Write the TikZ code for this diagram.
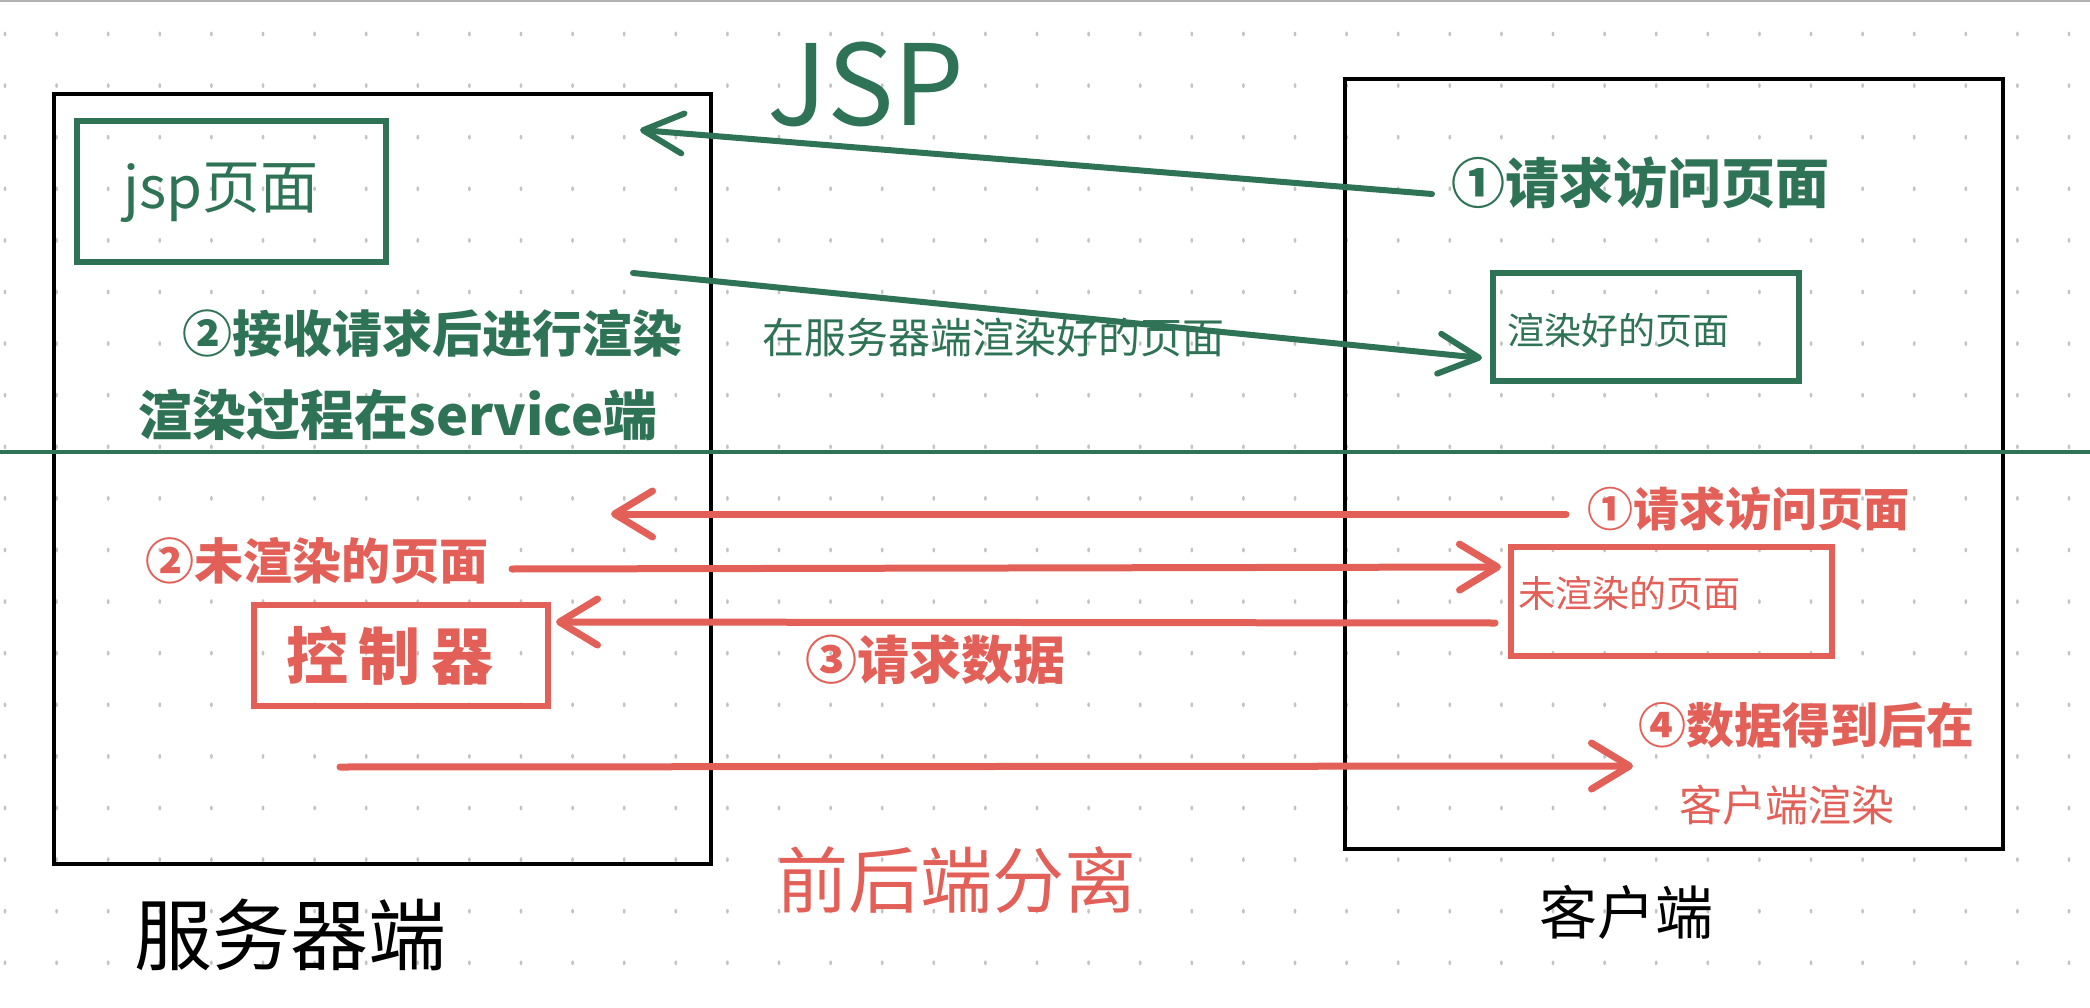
\documentclass[tikz,border=0pt]{standalone}
\usepackage{fontspec}
\setmainfont{Noto Sans CJK SC}
\usetikzlibrary{arrows.meta}
\definecolor{jgreen}{RGB}{47,115,86}
\definecolor{jred}{RGB}{226,96,88}
\definecolor{dotgray}{RGB}{196,196,196}
\newcommand{\fsz}[1]{\fontsize{#1}{#1}\selectfont}
\begin{document}
\begin{tikzpicture}[x=1pt,y=-1pt,
  gbox/.style={draw=jgreen,line width=6pt},
  rbox/.style={draw=jred,line width=6pt},
  gtext/.style={text=jgreen,inner sep=0pt},
  rtext/.style={text=jred,inner sep=0pt},
  ktext/.style={text=black,inner sep=0pt},
  heavy/.style={font=\bfseries},
  garrow/.style={draw=jgreen,line width=6pt,line cap=round,-{Straight Barb[length=40pt,width=40pt,round]}},
  rarrow/.style={draw=jred,line width=7pt,line cap=round,-{Straight Barb[length=38pt,width=46pt,round]}}
]
\useasboundingbox (0,0) rectangle (2090,1008);
\fill[white] (0,0) rectangle (2090,1008);
\draw[gray!60,line width=2pt] (0,1) -- (2090,1);
% dot grid
\foreach \i in {0,...,40} {
  \foreach \j in {0,...,18} {
    \fill[dotgray] (5+51.6*\i,34+51.6*\j) ellipse (1.4pt and 2.4pt);
  }
}
% main boxes
\node[draw=black,line width=4pt,minimum width=657pt,minimum height=770pt] (server) at (382.5,479) {};
\node[draw=black,line width=4pt,minimum width=658pt,minimum height=770pt] (client) at (1674,464) {};
% separator
\draw[jgreen,line width=4pt] (0,452) -- (2090,452);
% green part
\node[gtext] (jsptitle) at (866,84) {\fsz{112}JSP};
\node[gbox,minimum width=309pt,minimum height=141pt] (jspbox) at (231.5,191.5) {};
\node[gtext] (jsptext) at (221,193) {\fsz{58}jsp页面};
\node[gtext,heavy] (greq) at (1640,183) {\fsz{54}①请求访问页面};
\node[gtext,heavy] (recv) at (432,333) {\fsz{50}②接收请求后进行渲染};
\node[gtext,heavy] (proc) at (398,415) {\fsz{54}渲染过程在service端};
\node[gtext] (srvrender) at (993,338) {\fsz{42}在服务器端渲染好的页面};
\node[gbox,minimum width=306pt,minimum height=108pt] (renderbox) at (1646,327) {};
\node[gtext,anchor=west] (rendertext) at (1507,330) {\fsz{37}渲染好的页面};
\coordinate (g1s) at (1432,194);
\coordinate (g1e) at (640,130);
\coordinate (g2s) at (633,273);
\coordinate (g2e) at (1482,358);
\draw[garrow] (g1s) -- (g1e);
\draw[garrow] (g2s) -- (g2e);
% red part
\node[rtext,heavy] (rreq) at (1748,509) {\fsz{46}①请求访问页面};
\node[rtext,heavy] (unr) at (317,561) {\fsz{49}②未渲染的页面};
\node[rbox,minimum width=294pt,minimum height=101pt] (ctrl) at (401,655.5) {};
\node[rtext,heavy] (ctrltext) at (390,656) {\fsz{62}控\,制\,器};
\node[rtext,heavy,anchor=west] (reqdata) at (805,660) {\fsz{52}③请求数据};
\node[rbox,minimum width=321pt,minimum height=109pt] (unrbox) at (1671.5,601.5) {};
\node[rtext,anchor=west] (unrtext) at (1518,593) {\fsz{37}未渲染的页面};
\node[rtext,heavy] (got1) at (1806,725) {\fsz{48}④数据得到后在};
\node[rtext] (got2) at (1787,805) {\fsz{43}客户端渲染};
\node[rtext] (sep) at (956,880) {\fsz{72}前后端分离};
\coordinate (r1s) at (1566,514);
\coordinate (r1e) at (611,514);
\coordinate (r2s) at (512,569);
\coordinate (r2e) at (1501,567);
\coordinate (r3s) at (1495,623);
\coordinate (r3e) at (556,622);
\coordinate (r4s) at (340,767);
\coordinate (r4e) at (1633,766);
\draw[rarrow] (r1s) -- (r1e);
\draw[rarrow] (r2s) -- (r2e);
\draw[rarrow] (r3s) -- (r3e);
\draw[rarrow] (r4s) -- (r4e);
% black labels
\node[ktext] (srvlabel) at (290,935) {\fsz{78}服务器端};
\node[ktext] (clilabel) at (1626,912) {\fsz{58}客户端};
\end{tikzpicture}
\end{document}
